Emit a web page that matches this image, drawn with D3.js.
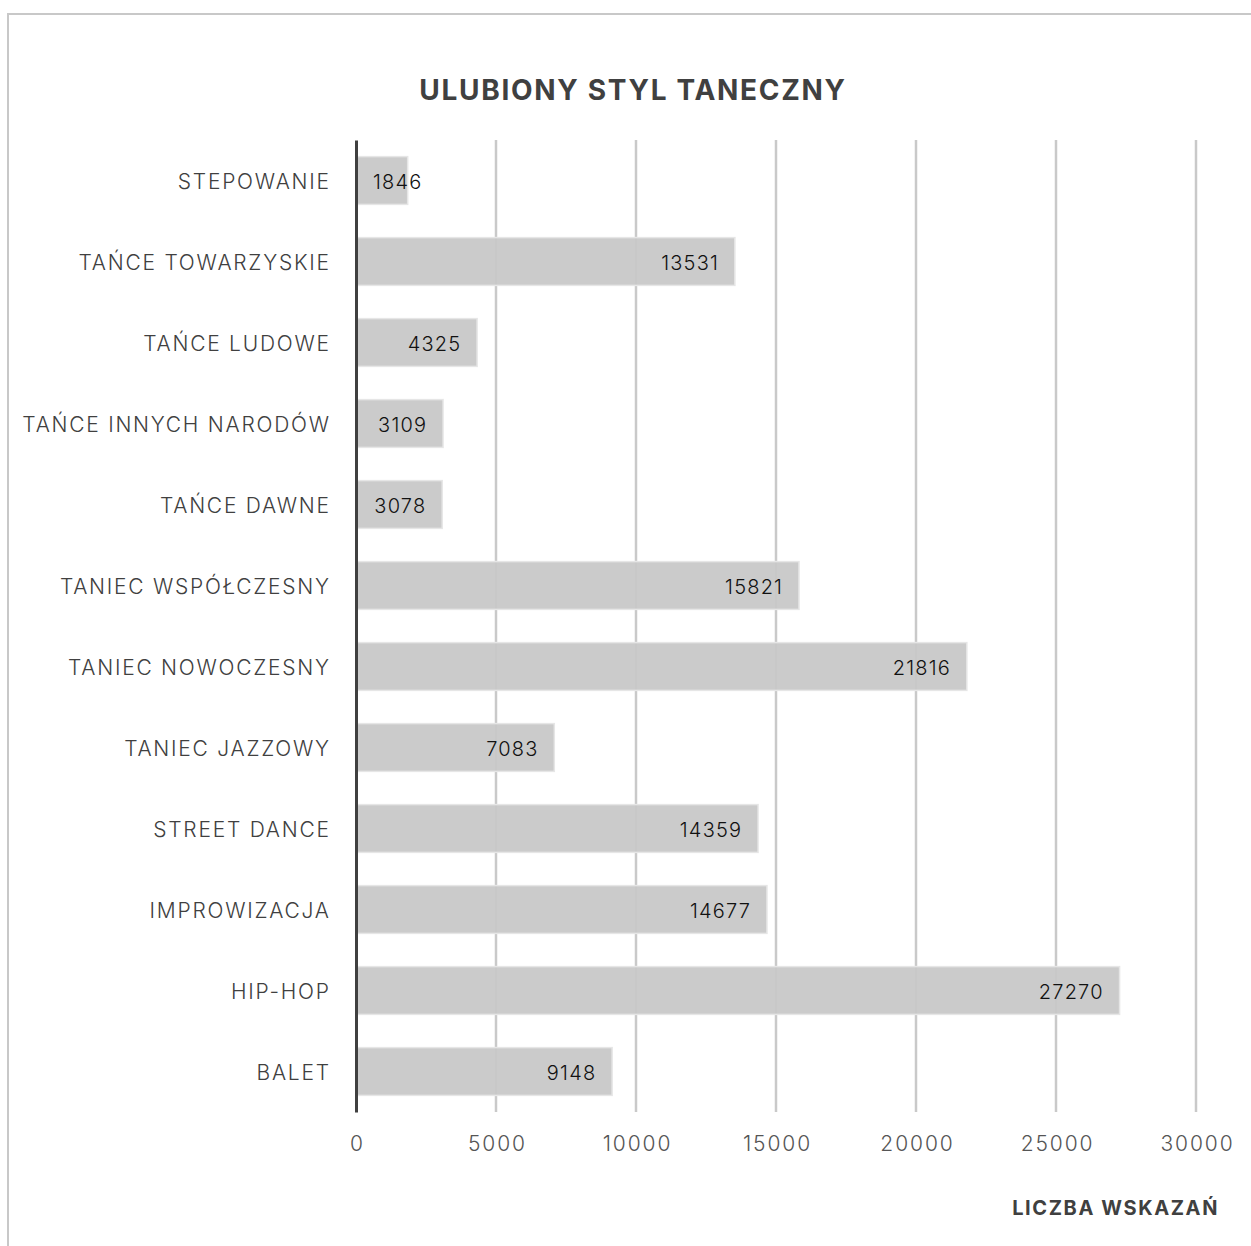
<!DOCTYPE html>
<html><head><meta charset="utf-8">
<script src="https://cdn.jsdelivr.net/npm/d3@7"></script>
<style>body{margin:0;background:#fff}svg{display:block}</style>
</head><body>
<script>
const categories = ["STEPOWANIE","TAŃCE TOWARZYSKIE","TAŃCE LUDOWE","TAŃCE INNYCH NARODÓW","TAŃCE DAWNE","TANIEC WSPÓŁCZESNY","TANIEC NOWOCZESNY","TANIEC JAZZOWY","STREET DANCE","IMPROWIZACJA","HIP-HOP","BALET"];
const values = [1846,13531,4325,3109,3078,15821,21816,7083,14359,14677,27270,9148];
const ticks = [0,5000,10000,15000,20000,25000,30000];
const title = "ULUBIONY STYL TANECZNY";
const axisTitle = "LICZBA WSKAZAŃ";

const W=1251,H=1246;
const svg=d3.select("body").append("svg").attr("width",W).attr("height",H);
const font="Inter, 'Open Sans', sans-serif";
svg.append("path").attr("d",`M8,${H} V14 H${W}`).attr("fill","none").attr("stroke","#c8c8c8").attr("stroke-width",2);

const x=d3.scaleLinear().domain([0,30000]).range([356,1196]);
const y=d3.scaleBand().domain(categories).range([140,1112]).paddingInner(0.41).paddingOuter(0.205);

svg.append("text").attr("x",633).attr("y",100).attr("text-anchor","middle")
 .attr("font-family",font).attr("font-weight",700).attr("font-size",28).attr("letter-spacing",1.7).attr("fill","#404040").text(title);

svg.append("g").selectAll("line").data(ticks.slice(1)).join("line")
 .attr("x1",d=>x(d)).attr("x2",d=>x(d)).attr("y1",140).attr("y2",1112)
 .attr("stroke","#c9c9c9").attr("stroke-width",2.5);

svg.append("g").selectAll("rect").data(values).join("rect")
 .attr("x",x(0)).attr("y",(d,i)=>y(categories[i])).attr("width",d=>x(d)-x(0)).attr("height",y.bandwidth())
 .attr("fill","#c8c8c8").attr("fill-opacity",0.95).attr("stroke","#e6e6e6").attr("stroke-width",1.5);

const vl=svg.append("g").selectAll("text").data(values).join("text")
 .attr("y",(d,i)=>y(categories[i])+y.bandwidth()/2).attr("dy","0.4em")
 .attr("font-family",font).attr("font-size",20).attr("font-weight",300).attr("letter-spacing",1.2).attr("fill","#111").attr("text-anchor","start")
 .text(d=>d);
vl.each(function(d){const w=this.getComputedTextLength()-1.2;let s=x(d)-17-w;if(s<373)s=373;d3.select(this).attr("x",s);});

const xa=svg.append("g").attr("transform","translate(0,1112)").call(d3.axisBottom(x).tickValues(ticks).tickSize(0).tickPadding(24).tickFormat(d3.format("d")));
xa.select(".domain").remove();
xa.selectAll("text").attr("font-family",font).attr("font-size",21).attr("font-weight",300).attr("letter-spacing",1.9).attr("dx",1).attr("fill","#555");

const ya=svg.append("g").attr("transform",`translate(${x(0)},0)`).call(d3.axisLeft(y).tickSize(0).tickPadding(27));
ya.select(".domain").attr("stroke","#404040").attr("stroke-width",3);
ya.selectAll("text").attr("font-family",font).attr("font-size",21).attr("font-weight",300).attr("letter-spacing",1.75).attr("dx",1.75).attr("dy","0.4em").attr("fill","#404040");

svg.append("text").attr("x",1219).attr("y",1215).attr("text-anchor","end")
 .attr("font-family",font).attr("font-weight",700).attr("font-size",20).attr("letter-spacing",1.6).attr("fill","#404040").text(axisTitle);
</script>
</body></html>
